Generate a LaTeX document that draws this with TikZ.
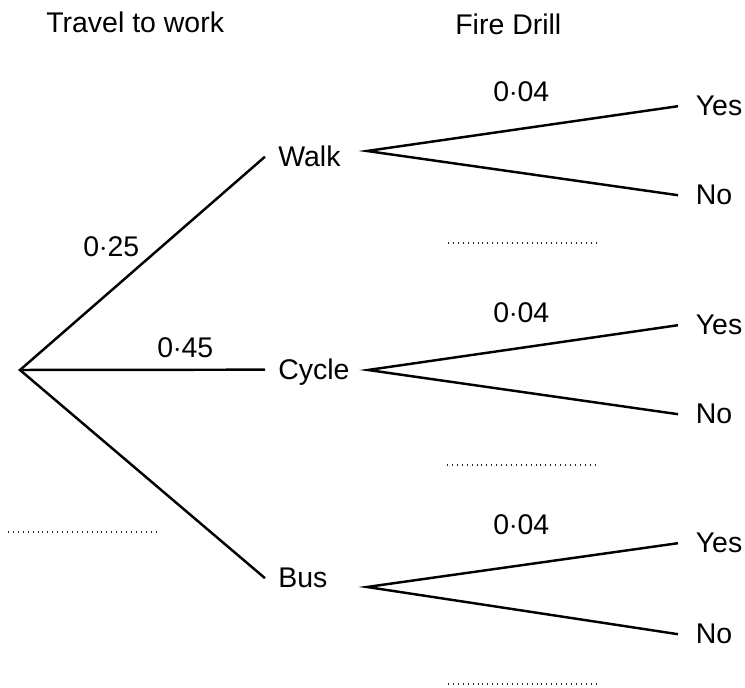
\documentclass[tikz,border=0pt]{standalone}
\usepackage{fontspec}
\setmainfont{Liberation Sans}
\usepackage{tikz}
\usetikzlibrary{positioning, calc}

\begin{document}
\begin{tikzpicture}[
    x=0.02cm, y=-0.02cm,
    font=\fontsize{16.2}{19}\selectfont,
    txt/.style={anchor=base west, inner sep=0pt, text depth=0pt},
    outcome/.style={txt, inner xsep=0.26cm},
    answer/.style={txt, inner xsep=0.35cm},
    branch/.style={line width=1.4pt, line join=miter},
    blank/.style={line width=0.7pt, dash pattern=on 0.5pt off 2.3pt, black!85}
]
    \useasboundingbox (0,0) rectangle (745,688);
    \node[txt] (head1) at (46,33) {Travel to work};
    \node[txt] (head2) at (455,35) {Fire Drill};

    \coordinate (root) at (20,370);
    \node[outcome] (walk) at (265,167) {Walk};
    \node[outcome] (cycle) at (265,380) {Cycle};
    \node[outcome] (bus) at (265,588) {Bus};
    \draw[branch] (walk.west) -- (root) -- (bus.west);
    \draw[branch] (root) -- (cycle.west);
    \node[txt] (pwalk) at (83,257) {0$\cdot$25};
    \node[txt] (pcycle) at (157,358) {0$\cdot$45};
    \draw[blank] (8,532) -- (158,532);

    \coordinate (walkfork) at (367,151);
    \node[answer] (walkyes) at (678,116) {Yes};
    \node[answer] (walkno) at (678,205) {No};
    \draw[branch] (walkyes.west) -- (walkfork) -- (walkno.west);
    \node[txt] (pwalkyes) at (493,102) {0$\cdot$04};
    \draw[blank] (448,243) -- (598,243);

    \coordinate (cyclefork) at (368,370);
    \node[answer] (cycleyes) at (678,335) {Yes};
    \node[answer] (cycleno) at (678,424) {No};
    \draw[branch] (cycleyes.west) -- (cyclefork) -- (cycleno.west);
    \node[txt] (pcycleyes) at (493,323) {0$\cdot$04};
    \draw[blank] (447,465) -- (598,465);

    \coordinate (busfork) at (367,587);
    \node[answer] (busyes) at (678,553) {Yes};
    \node[answer] (busno) at (678,644) {No};
    \draw[branch] (busyes.west) -- (busfork) -- (busno.west);
    \node[txt] (pbusyes) at (493,535) {0$\cdot$04};
    \draw[blank] (448,684) -- (598,684);
\end{tikzpicture}
\end{document}
